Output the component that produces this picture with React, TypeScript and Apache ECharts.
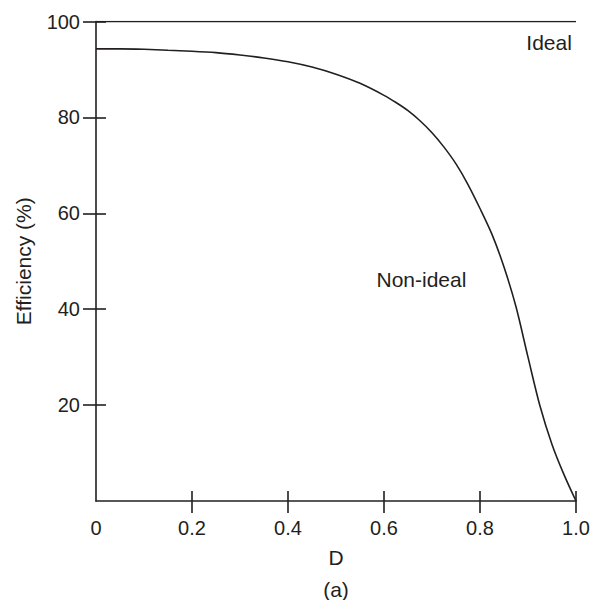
import React, { useEffect, useRef } from "react";
import * as echarts from "echarts";

const dutyCycle = [0, 0.05, 0.1, 0.15, 0.2, 0.25, 0.3, 0.35, 0.4, 0.45, 0.5, 0.55, 0.6, 0.625, 0.65, 0.675, 0.7, 0.725, 0.75, 0.775, 0.8, 0.825, 0.85, 0.875, 0.9, 0.925, 0.95, 0.975, 1.0];
const nonIdealEff = [94.3, 94.3, 94.2, 94.0, 93.8, 93.5, 93.0, 92.4, 91.6, 90.5, 89.0, 87.1, 84.6, 83.1, 81.4, 79.3, 76.8, 73.8, 70.3, 66.0, 61.0, 55.6, 48.8, 40.5, 30.0, 19.8, 11.8, 5.5, 0];
const idealD = [0, 1];
const idealEff = [100, 100];
const xTicks = [0.2, 0.4, 0.6, 0.8, 1.0];
const yTicks = [20, 40, 60, 80, 100];
const annotations = [
  { name: "Ideal", d: 0.944, eff: 95.6 },
  { name: "Non-ideal", d: 0.678, eff: 46.2 },
];

const INK = "#231f20";
const FONT = "'Liberation Sans', Arial, Helvetica, sans-serif";

export default function App() {
  const ref = useRef<HTMLDivElement>(null);
  useEffect(() => {
    if (!ref.current) return;
    const chart = echarts.init(ref.current, undefined, { renderer: "svg" });
    const lineStyle = { color: INK, width: 1.6 };
    const textStyle = { color: INK, fontSize: 20, fontFamily: FONT };
    const bigText = { color: INK, fontSize: 21, fontFamily: FONT };
    chart.setOption({
      animation: false,
      backgroundColor: "#ffffff",
      textStyle: { fontFamily: FONT },
      grid: { left: 96, top: 21.5, right: 18, bottom: 99, containLabel: false },
      xAxis: [
        {
          type: "value",
          min: 0,
          max: 1,
          interval: 0.2,
          position: "bottom",
          splitLine: { show: false },
          axisLine: { show: true, onZero: false, lineStyle },
          axisTick: { show: true, inside: false, length: 12, lineStyle, customValues: xTicks },
          axisLabel: {
            ...textStyle,
            margin: 17,
            formatter: (v: number) => (v === 0 ? "0" : v.toFixed(1)),
          },
          name: "D",
          nameLocation: "middle",
          nameGap: 46,
          nameTextStyle: bigText,
        },
        {
          type: "value",
          min: 0,
          max: 1,
          interval: 0.2,
          position: "bottom",
          splitLine: { show: false },
          axisLine: { show: false, onZero: false },
          axisTick: { show: true, inside: true, length: 10, lineStyle, customValues: xTicks },
          axisLabel: { show: false },
        },
      ],
      yAxis: [
        {
          type: "value",
          min: 0,
          max: 100,
          interval: 20,
          position: "left",
          splitLine: { show: false },
          axisLine: { show: true, onZero: false, lineStyle },
          axisTick: { show: true, inside: false, length: 13, lineStyle, customValues: yTicks },
          axisLabel: {
            ...textStyle,
            margin: 16,
            formatter: (v: number) => (v === 0 ? "" : String(v)),
          },
          name: "Efficiency (%)",
          nameLocation: "middle",
          nameRotate: 90,
          nameGap: 62,
          nameTextStyle: bigText,
        },
        {
          type: "value",
          min: 0,
          max: 100,
          interval: 20,
          position: "left",
          splitLine: { show: false },
          axisLine: { show: false, onZero: false },
          axisTick: { show: true, inside: true, length: 10, lineStyle, customValues: yTicks },
          axisLabel: { show: false },
        },
      ],
      series: [
        {
          type: "line",
          name: "Ideal",
          data: idealD.map((d, i) => [d, idealEff[i]]),
          showSymbol: false,
          symbol: "none",
          lineStyle: { color: INK, width: 1.6 },
          z: 3,
        },
        {
          type: "line",
          name: "Non-ideal",
          data: dutyCycle.map((d, i) => [d, nonIdealEff[i]]),
          showSymbol: false,
          symbol: "none",
          smooth: 0.3,
          lineStyle: { color: INK, width: 1.6 },
          z: 3,
        },
      ],
    });
    const labels = annotations.map((a) => {
      const [px, py] = chart.convertToPixel({ xAxisIndex: 0, yAxisIndex: 0 }, [a.d, a.eff]) as number[];
      return {
        type: "text",
        x: px,
        y: py,
        silent: true,
        style: {
          text: a.name,
          fill: INK,
          fontSize: 21,
          fontFamily: FONT,
          align: "center",
          verticalAlign: "middle",
        },
      };
    });
    const center = chart.convertToPixel({ xAxisIndex: 0 }, 0.5) as number;
    chart.setOption({
      graphic: [
        ...labels,
        {
          type: "text",
          x: center,
          y: 589,
          silent: true,
          style: {
            text: "(a)",
            fill: INK,
            fontSize: 21,
            fontFamily: FONT,
            align: "center",
            verticalAlign: "middle",
          },
        },
      ],
    });
    return () => chart.dispose();
  }, []);
  return (
    <div
      ref={ref}
      style={{ position: "absolute", left: 0, top: 0, width: 594, height: 600, background: "#fff" }}
    />
  );
}
